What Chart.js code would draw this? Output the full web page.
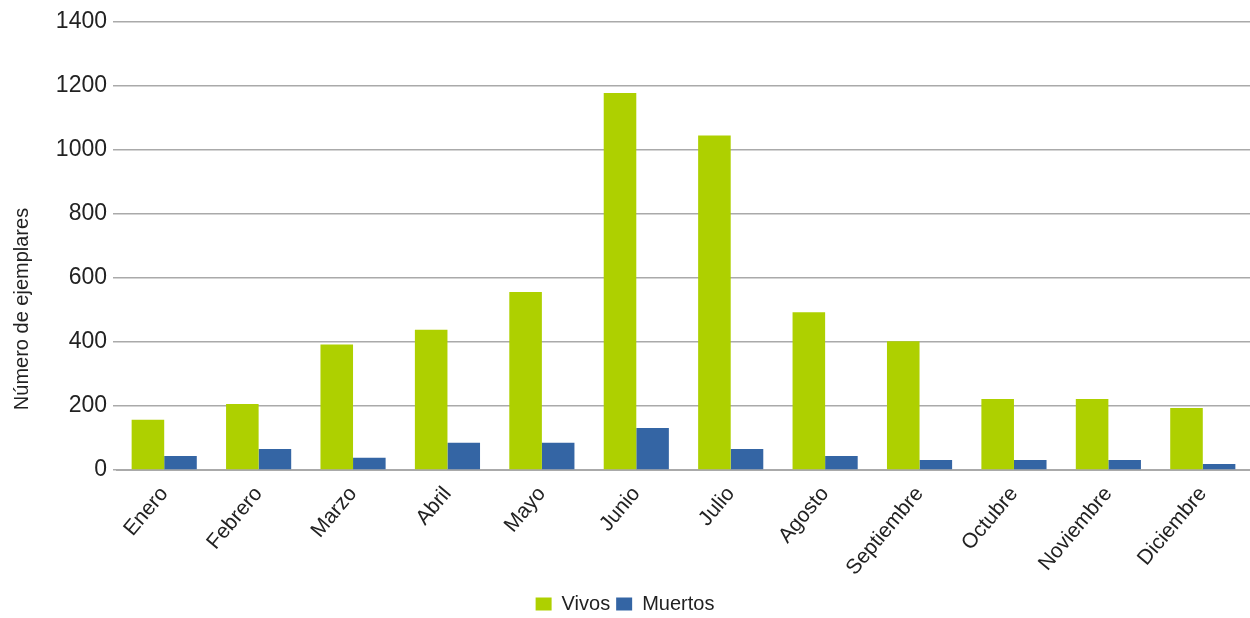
<!DOCTYPE html>
<html>
<head>
<meta charset="utf-8">
<script src="https://cdn.jsdelivr.net/npm/chart.js@4"></script>
<style>
  html, body { margin: 0; padding: 0; background: #fff; }
  #wrap { width: 1250px; height: 618px; position: relative; }
</style>
</head>
<body>
<div id="wrap"><canvas id="chart"></canvas></div>
<script>
const meses = ["Enero", "Febrero", "Marzo", "Abril", "Mayo", "Junio",
  "Julio", "Agosto", "Septiembre", "Octubre", "Noviembre", "Diciembre"];
const vivos = [157, 206, 392, 438, 556, 1178, 1045, 493, 402, 222, 222, 194];
const muertos = [44, 66, 38, 85, 85, 131, 66, 44, 31, 31, 31, 19];
const yTicks = [0, 200, 400, 600, 800, 1000, 1200, 1400];
const tituloY = 'Número de ejemplares';

// y-axis title, centred on the whole canvas height like the original
const yTitlePlugin = {
  id: 'yTitle',
  afterDraw(chart) {
    const c = chart.ctx;
    c.save();
    c.translate(22, chart.height / 2);
    c.rotate(-Math.PI / 2);
    c.font = '20px "Liberation Sans"';
    c.fillStyle = '#222';
    c.textAlign = 'center';
    c.textBaseline = 'middle';
    c.fillText(tituloY, 0, 0);
    c.restore();
  }
};

const ctx = document.getElementById("chart").getContext("2d");

new Chart(ctx, {
  type: 'bar',
  data: {
    labels: meses,
    datasets: [{
      label: 'Vivos',
      data: vivos,
      backgroundColor: '#aed000',
      categoryPercentage: 0.69,
      barPercentage: 1.0
    }, {
      label: 'Muertos',
      data: muertos,
      backgroundColor: '#3465a4',
      categoryPercentage: 0.69,
      barPercentage: 1.0
    }]
  },
  options: {
    responsive: true,
    maintainAspectRatio: false,
    animation: false,
    layout: {
      padding: { top: 22, right: 0, bottom: -6, left: 0 }
    },
    scales: {
      x: {
        afterFit: (axis) => { axis.height = 118; },
        grid: { display: false },
        border: { display: true, color: '#aaaaaa', width: 2 },
        ticks: {
          color: '#222',
          font: { family: 'Liberation Sans', size: 21 },
          minRotation: 50,
          maxRotation: 50,
          padding: 4
        }
      },
      y: {
        min: 0,
        max: 1400,
        afterFit: (axis) => { axis.width = 117; },
        afterBuildTicks: (axis) => {
          axis.ticks = yTicks.map(v => ({ value: v }));
        },
        border: { display: false },
        grid: {
          color: '#aaaaaa',
          lineWidth: 1.5,
          drawTicks: true,
          tickLength: 4
        },
        ticks: {
          color: '#222',
          font: { family: 'Liberation Sans', size: 23 },
          padding: 6,
          callback: (v) => String(v)
        }
      }
    },
    plugins: {
      legend: {
        position: 'bottom',
        labels: {
          color: '#222',
          font: { family: 'Liberation Sans', size: 20 },
          boxWidth: 16,
          boxHeight: 13,
          padding: 6
        }
      },
      tooltip: { enabled: false }
    }
  },
  plugins: [yTitlePlugin]
});
</script>
</body>
</html>
